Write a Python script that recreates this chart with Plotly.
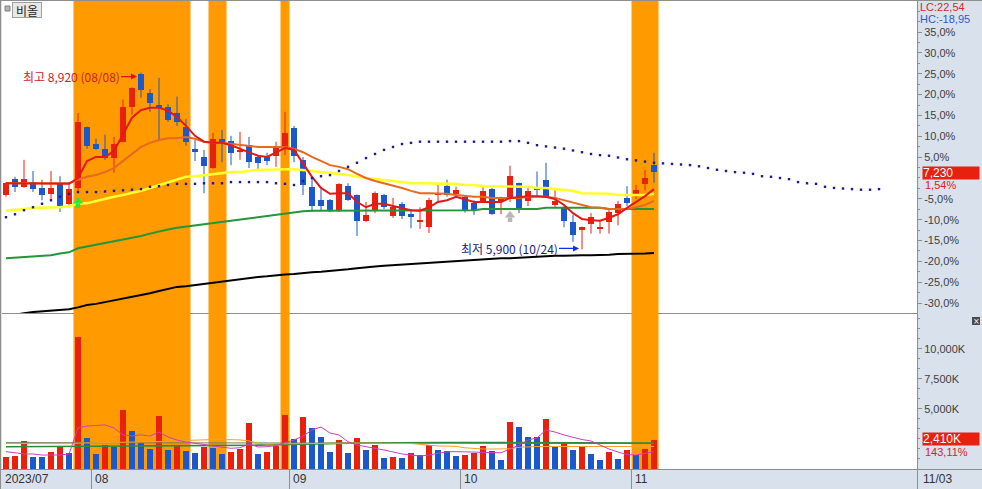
import plotly.graph_objects as go
import pandas as pd
import numpy as np

# ---------------- data ----------------
holidays = ["2023-08-15", "2023-09-28", "2023-09-29", "2023-10-02", "2023-10-03", "2023-10-09"]
trade_dates = [d for d in pd.bdate_range("2023-07-18", "2023-11-03")
               if d.strftime("%Y-%m-%d") not in holidays]

opens = [6830, 7100, 6970, 7050, 6950, 6850, 7030, 6680, 6950, 7990,
         7700, 7620, 7460, 7740, 8340, 8900, 8580, 8370, 8340, 8230,
         7990, 7620, 7480, 7290, 7790, 7750, 7570, 7680, 7480, 7480,
         7500, 7650, 7980, 7430, 6970, 6740, 6740, 6550, 6980, 6830,
         6390, 6560, 6830, 6470, 6680, 6500, 6380, 6290, 6840, 6980,
         6850, 6790, 6690, 6710, 6930, 6730, 6780, 7030, 6720, 6930,
         7090, 6660, 6620, 6370, 6230, 6330, 6250, 6370, 6520, 6780,
         6810, 7020, 7350]
highs = [7050, 7140, 7430, 7240, 7090, 7240, 7150, 7050, 8230, 8000,
         7790, 7860, 7820, 8460, 8670, 8920, 8640, 8830, 8380, 8510,
         8130, 7770, 7600, 7890, 7940, 7840, 7910, 7820, 7510, 7550,
         7740, 8250, 8010, 7480, 7120, 6930, 6760, 7030, 7030, 6840,
         6710, 6890, 6850, 6780, 6710, 6590, 6620, 6780, 7030, 7090,
         6970, 6810, 6740, 6970, 6950, 6800, 7330, 7040, 6970, 7230,
         7380, 6950, 6640, 6490, 6290, 6520, 6400, 6600, 6730, 6980,
         7000, 7260, 7550]
lows = [6800, 6880, 6950, 6880, 6740, 6740, 6540, 6620, 6880, 7620,
        7600, 7430, 7210, 7730, 8200, 8490, 8250, 7770, 8080, 8010,
        7670, 7410, 6860, 7280, 7390, 7340, 7430, 7290, 7260, 7340,
        7310, 7510, 7390, 6830, 6540, 6560, 6540, 6540, 6730, 6130,
        6370, 6520, 6590, 6440, 6420, 6260, 6250, 6180, 6690, 6800,
        6830, 6530, 6490, 6700, 6490, 6500, 6710, 6520, 6640, 6810,
        6780, 6620, 6280, 6030, 5900, 6170, 6170, 6170, 6310, 6640,
        6760, 6910, 7040]
closes = [7030, 6970, 7100, 6930, 6830, 6950, 6640, 6930, 8080, 7670,
          7620, 7460, 7700, 8340, 8660, 8630, 8400, 8320, 8110, 8080,
          7740, 7570, 7330, 7790, 7740, 7550, 7590, 7390, 7380, 7410,
          7670, 7890, 7500, 7000, 6640, 6640, 6550, 7010, 6750, 6390,
          6490, 6860, 6620, 6620, 6470, 6450, 6390, 6740, 6850, 6830,
          6910, 6550, 6570, 6890, 6500, 6740, 7150, 6580, 6890, 6920,
          6790, 6720, 6390, 6140, 6280, 6450, 6260, 6540, 6680, 6690,
          6910, 7120, 7230]
volumes_k = [1020, 1040, 2330, 1020, 1010, 1390, 1910, 1300, 10990, 2600,
             1250, 1990, 1800, 4900, 3160, 2140, 1660, 4400, 1580, 1990,
             1520, 1300, 1850, 1720, 1250, 1440, 1640, 3800, 1250, 1390,
             1910, 4490, 2470, 4300, 3380, 2680, 1440, 2410, 1300, 2600,
             1580, 1990, 940, 1020, 950, 1300, 1140, 1990, 1580, 1500,
             1110, 1160, 1300, 1940, 1520, 750, 3930, 3520, 2680, 2660,
             4160, 1910, 2140, 1580, 1850, 1250, 750, 1410, 830, 1580,
             1140, 1684, 2410]

ma5 = [7030, 7030, 7030, 7030, 7030, 7020, 7020, 7020, 7120, 7410,
       7480, 7480, 7580, 7860, 8150, 8280, 8320, 8320, 8270, 8160,
       8010, 7840, 7740, 7720, 7720, 7680, 7620, 7550, 7500, 7480,
       7550, 7630, 7600, 7380, 7140, 6950, 6850, 6860, 6860, 6710,
       6620, 6680, 6680, 6640, 6610, 6570, 6560, 6620, 6710, 6740,
       6800, 6760, 6710, 6710, 6710, 6710, 6780, 6800, 6810, 6810,
       6800, 6760, 6660, 6520, 6420, 6400, 6390, 6440, 6500, 6610,
       6710, 6810, 6930]
ma10 = [7030, 7030, 7030, 7030, 7030, 7030, 7030, 7030, 7090, 7140,
        7170, 7220, 7290, 7410, 7530, 7650, 7720, 7770, 7800, 7800,
        7820, 7790, 7740, 7720, 7720, 7700, 7680, 7670, 7650, 7650,
        7650, 7650, 7620, 7560, 7480, 7410, 7340, 7310, 7270, 7190,
        7120, 7070, 7030, 7000, 6950, 6900, 6860, 6860, 6860, 6850,
        6830, 6810, 6800, 6800, 6780, 6780, 6780, 6780, 6800, 6800,
        6800, 6780, 6740, 6690, 6660, 6620, 6610, 6590, 6590, 6590,
        6620, 6660, 6730]
ma20 = [6560, 6570, 6590, 6610, 6610, 6620, 6620, 6640, 6680, 6690,
        6730, 6760, 6800, 6830, 6860, 6900, 6950, 7000, 7050, 7100,
        7140, 7150, 7170, 7190, 7210, 7220, 7220, 7240, 7260, 7260,
        7270, 7270, 7270, 7260, 7240, 7220, 7210, 7190, 7170, 7140,
        7120, 7100, 7090, 7070, 7050, 7030, 7030, 7030, 7020, 7020,
        7020, 7000, 7000, 6980, 6980, 6980, 6970, 6970, 6970, 6950,
        6950, 6930, 6920, 6900, 6860, 6860, 6850, 6850, 6830, 6830,
        6830, 6830, 6850]
ma60 = [5750, 5760, 5770, 5790, 5800, 5800, 5830, 5850, 5920, 5950,
        5970, 6000, 6030, 6060, 6090, 6130, 6170, 6210, 6240, 6270,
        6290, 6310, 6330, 6360, 6380, 6400, 6420, 6440, 6460, 6480,
        6500, 6510, 6530, 6550, 6560, 6560, 6560, 6560, 6560, 6560,
        6560, 6560, 6560, 6560, 6560, 6560, 6560, 6570, 6570, 6570,
        6570, 6570, 6570, 6590, 6590, 6590, 6590, 6590, 6590, 6590,
        6610, 6610, 6610, 6610, 6610, 6610, 6610, 6590, 6590, 6590,
        6590, 6590, 6590]
ma120 = [4760, 4790, 4810, 4830, 4840, 4850, 4860, 4880, 4910, 4950,
         4970, 5000, 5030, 5050, 5090, 5120, 5150, 5190, 5220, 5260,
         5270, 5290, 5320, 5340, 5360, 5380, 5390, 5410, 5430, 5440,
         5460, 5470, 5480, 5500, 5510, 5520, 5530, 5550, 5560, 5580,
         5600, 5610, 5620, 5630, 5650, 5660, 5670, 5680, 5680, 5690,
         5700, 5720, 5730, 5740, 5740, 5750, 5750, 5760, 5770, 5770,
         5780, 5790, 5790, 5800, 5800, 5800, 5800, 5810, 5820, 5820,
         5830, 5830, 5840]
# leading (forward-shifted) line, extends 25 sessions beyond the last candle
lead_line = [6450, 6500, 6570, 6620, 6680, 6740, 6800, 6850, 6880, 6880,
             6880, 6890, 6900, 6910, 6920, 6930, 6970, 6980, 7000, 7020,
             7020, 7020, 7030, 7030, 7030, 7050, 7050, 7050, 7050, 7050,
             7030, 7020, 7000, 7070, 7120, 7150, 7170, 7240, 7310, 7380,
             7460, 7530, 7600, 7650, 7700, 7720, 7740, 7740, 7740, 7740,
             7740, 7740, 7740, 7740, 7740, 7740, 7750, 7750, 7720, 7680,
             7660, 7640, 7620, 7590, 7560, 7530, 7510, 7500, 7470, 7440,
             7420, 7400, 7380, 7370, 7360, 7350, 7340, 7320, 7290, 7260,
             7240, 7220, 7210, 7190, 7150, 7140, 7120, 7100, 7050, 7030,
             7020, 6970, 6950, 6940, 6930, 6920, 6920, 6930]

vol_ma5 = [1440, 1330, 1250, 1250, 1160, 1160, 1160, 1250, 3410, 3570,
           3610, 3660, 3410, 2830, 2740, 2830, 2740, 3070, 2660, 2410,
           2240, 2160, 2040, 1910, 1790, 1720, 1770, 2080, 1830, 1850,
           1950, 2160, 2410, 2740, 3240, 3490, 2990, 2830, 2270, 1990,
           1830, 1720, 1580, 1410, 1250, 1160, 1080, 1160, 1330, 1440,
           1440, 1440, 1410, 1370, 1350, 1350, 1660, 1990, 2410, 2580,
           3240, 3070, 2830, 2620, 2450, 2330, 1990, 1660, 1410, 1200,
           1160, 1290, 1440]
vol_ma20 = [2120, 2110, 2110, 2100, 2100, 2100, 2100, 2110, 2150, 2160,
            2160, 2170, 2180, 2200, 2220, 2230, 2250, 2280, 2300, 2340,
            2380, 2420, 2450, 2450, 2450, 2440, 2420, 2330, 2150, 2080,
            2080, 2080, 2080, 2080, 2080, 2090, 2100, 2140, 2160, 2160,
            2160, 2160, 2160, 2160, 2150, 2120, 2050, 1950, 1910, 1900,
            1880, 1760, 1680, 1660, 1660, 1660, 1680, 1800, 1860, 1870,
            1870, 1870, 1870, 1870, 1870, 1870, 1870, 1870, 1870, 1870,
            1870, 1870, 1870]
vol_ma60 = [1850, 1850, 1850, 1850, 1860, 1860, 1860, 1870, 1880, 1880,
            1890, 1890, 1900, 1900, 1910, 1910, 1920, 1920, 1930, 1930,
            1940, 1940, 1950, 1950, 1960, 1960, 1970, 1980, 1980, 1990,
            2000, 2010, 2030, 2050, 2070, 2090, 2110, 2130, 2150, 2160,
            2170, 2180, 2190, 2200, 2200, 2200, 2200, 2200, 2200, 2200,
            2200, 2200, 2190, 2190, 2180, 2180, 2170, 2170, 2170, 2160,
            2160, 2160, 2160, 2160, 2160, 2160, 2160, 2160, 2160, 2160,
            2160, 2160, 2160]
vol_ma120 = [2190, 2190, 2190, 2190, 2190, 2190, 2190, 2190, 2190, 2190,
             2190, 2190, 2190, 2190, 2190, 2190, 2190, 2180, 2180, 2180,
             2180, 2180, 2180, 2180, 2180, 2170, 2170, 2170, 2170, 2170,
             2170, 2170, 2170, 2160, 2160, 2160, 2160, 2160, 2160, 2160,
             2150, 2150, 2150, 2150, 2150, 2150, 2150, 2150, 2140, 2140,
             2140, 2140, 2140, 2140, 2140, 2140, 2130, 2130, 2130, 2130,
             2130, 2130, 2130, 2130, 2130, 2120, 2120, 2120, 2120, 2120,
             2120, 2120, 2120]

band_start = ["2023-07-28", "2023-08-21", "2023-08-31", "2023-11-01"]
band_end = ["2023-08-16", "2023-08-22", "2023-08-31", "2023-11-03"]

signal_green_date = ["2023-07-28"]
signal_green_price = [6690]
signal_gray_date = ["2023-10-12"]
signal_gray_price = [6450]

pct_ticks = [35, 30, 25, 20, 15, 10, 5, -5, -10, -15, -20, -25, -30]
vol_ticks = [5000, 7500, 10000]

# ---------------- helpers ----------------
RED = "#e8210f"
BLUE = "#1a58cc"
GRID = "#8e8e8e"
PANEL = "#d9e1ec"
WON_PER_PX = 17.08

def px_x(px):
    return (px - 2) / 915.0

def px_y(py):
    return (469 - py) / 468.0

date_str = [d.strftime("%Y-%m-%d") for d in trade_dates]
def di(s):
    return date_str.index(s)

n = len(closes)
idx = list(range(n))
base = closes[-2]

fig = go.Figure()

# ----- candle wicks -----
for colr, cond in ((RED, True), (BLUE, False)):
    wx, wy = [], []
    for i in idx:
        if (closes[i] >= opens[i]) == cond:
            wx += [i, i, None]
            wy += [lows[i], highs[i], None]
    fig.add_trace(go.Scatter(x=wx, y=wy, mode="lines", line=dict(color=colr, width=1),
                             hoverinfo="skip", yaxis="y"))

# ----- candle bodies -----
body_base = [min(o, c) for o, c in zip(opens, closes)]
body_h = [max(abs(c - o), 17) for o, c in zip(opens, closes)]
body_col = [RED if c >= o else BLUE for o, c in zip(opens, closes)]
fig.add_trace(go.Bar(x=idx, y=body_h, base=body_base, width=0.76,
                     marker=dict(color=body_col, line=dict(width=0)), yaxis="y"))

# ----- moving averages -----
for vals, colr, w in ((ma120, "#000000", 2), (ma60, "#22963a", 2), (ma20, "#ffff30", 2.6),
                      (ma10, "#e8681e", 2), (ma5, "#e41818", 2)):
    fig.add_trace(go.Scatter(x=idx, y=vals, mode="lines", line=dict(color=colr, width=w),
                             yaxis="y", hoverinfo="skip"))

fig.add_trace(go.Scatter(x=list(range(len(lead_line))), y=lead_line, mode="markers",
                         marker=dict(symbol="square", size=2.4, color="#1c1c8a"),
                         yaxis="y", hoverinfo="skip"))

# block arrows (head + stem) for signals
for dates_, prices_, colr in ((signal_green_date, signal_green_price, "#33e633"),
                              (signal_gray_date, signal_gray_price, "#b8b8b8")):
    xs = [di(s) for s in dates_]
    fig.add_trace(go.Scatter(x=xs, y=[p + 2 * WON_PER_PX for p in prices_], mode="markers",
                             marker=dict(symbol="triangle-up", size=9, color=colr, line=dict(width=0)),
                             yaxis="y", hoverinfo="skip"))
    fig.add_trace(go.Scatter(x=xs, y=[p - 2.5 * WON_PER_PX for p in prices_], mode="markers",
                             marker=dict(symbol="square", size=4.5, color=colr, line=dict(width=0)),
                             yaxis="y", hoverinfo="skip"))

# ----- volume -----
vol_col = [RED if (i == 0 or volumes_k[i] > volumes_k[i - 1]) else BLUE for i in idx]
fig.add_trace(go.Bar(x=idx, y=volumes_k, width=0.76,
                     marker=dict(color=vol_col, line=dict(width=0)), yaxis="y2"))
for vals, colr, w in ((vol_ma120, "#7a7a5a", 1), (vol_ma60, "#2a8c3c", 1.6),
                      (vol_ma20, "#f2a22a", 1), (vol_ma5, "#d23cc4", 1)):
    fig.add_trace(go.Scatter(x=idx, y=vals, mode="lines", line=dict(color=colr, width=w),
                             yaxis="y2", hoverinfo="skip"))

# ----- shapes -----
shapes = []
shapes.append(dict(type="line", xref="paper", yref="paper", x0=0, x1=1,
                   y0=px_y(313.5), y1=px_y(313.5), line=dict(color=GRID, width=1), layer="below"))
for s, e in zip(band_start, band_end):
    shapes.append(dict(type="rect", xref="x", yref="paper", x0=di(s) - 0.5, x1=di(e) + 0.5,
                       y0=0, y1=1, fillcolor="#ff9a00", line=dict(width=0), layer="below"))
shapes.append(dict(type="line", xref="paper", yref="paper", x0=px_x(0), x1=px_x(982),
                   y0=px_y(469.5), y1=px_y(469.5), line=dict(color=GRID, width=1)))
shapes.append(dict(type="line", xref="paper", yref="paper", x0=px_x(0), x1=px_x(982),
                   y0=px_y(0.5), y1=px_y(0.5), line=dict(color=GRID, width=1)))
shapes.append(dict(type="line", xref="paper", yref="paper", x0=px_x(0.5), x1=px_x(0.5),
                   y0=px_y(489), y1=px_y(0), line=dict(color=GRID, width=1)))
shapes.append(dict(type="line", xref="paper", yref="paper", x0=px_x(917.5), x1=px_x(917.5),
                   y0=px_y(489), y1=px_y(0), line=dict(color=GRID, width=1)))
months = []
for i, d in enumerate(trade_dates):
    if i == 0 or d.month != trade_dates[i - 1].month:
        months.append(i)
for i in months[1:]:
    shapes.append(dict(type="line", xref="x", yref="paper", x0=i - 0.5, x1=i - 0.5,
                       y0=px_y(489), y1=px_y(470), line=dict(color=GRID, width=1)))
shapes.append(dict(type="rect", xref="paper", yref="paper", x0=px_x(5), x1=px_x(10),
                   y0=px_y(11), y1=px_y(6), fillcolor="#b4b4b4", line=dict(color="#808080", width=1)))
shapes.append(dict(type="rect", xref="paper", yref="paper", x0=px_x(972), x1=px_x(980),
                   y0=px_y(325), y1=px_y(317), fillcolor="#4a4a4a", line=dict(width=0)))

# ----- annotations -----
ann = []
KFONT = "Noto Sans CJK KR, Liberation Sans, sans-serif"
LBL = "Liberation Sans"
imax = int(np.argmax(highs))
imin = int(np.argmin(lows))
ann.append(dict(x=imax, y=highs[imax], xref="x", yref="y",
                text=f"최고 {highs[imax]:,} ({trade_dates[imax]:%m/%d})",
                font=dict(family=KFONT, size=12, color="#d02028"),
                showarrow=True, arrowhead=2, arrowsize=1, arrowwidth=1.2, arrowcolor="#e01010",
                ax=-66, ay=0, xshift=-4, yshift=-4))
ann.append(dict(x=imin, y=lows[imin], xref="x", yref="y",
                text=f"최저 {lows[imin]:,} ({trade_dates[imin]:%m/%d})",
                font=dict(family=KFONT, size=12, color="#1a1a80"),
                showarrow=True, arrowhead=2, arrowsize=1, arrowwidth=1.2, arrowcolor="#1030e0",
                ax=-70, ay=0, xshift=-3, yshift=1))


def ptext(px, py, text, color, size=12, family=LBL, xanchor="left", **kw):
    d = dict(x=px_x(px), y=px_y(py), xref="paper", yref="paper", xanchor=xanchor,
             yanchor="middle", text=text, font=dict(family=family, size=size, color=color),
             showarrow=False)
    d.update(kw)
    return d


ann.append(ptext(27, 10, "비올", "#222222", family=KFONT, xanchor="center",
                 bgcolor="#e8e8e8", bordercolor="#a0a0a0", borderwidth=1, borderpad=0,
                 width=28, height=14))
ann.append(ptext(976, 321, "×", "white", size=8, family="DejaVu Sans", xanchor="center"))
ann.append(ptext(918, 7.5, "LC:22,54", "#d82828", size=11))
ann.append(ptext(918, 19.5, "HC:-18,95", "#2a5cc8", size=11))
ann.append(dict(x=px_x(922), y=closes[-1], xref="paper", yref="y", xanchor="left", yanchor="middle",
                text=f"{closes[-1]:,}", font=dict(family=LBL, size=12, color="white"),
                bgcolor="#e8210f", width=56, height=12, align="left", borderpad=0,
                showarrow=False, yshift=-1))
chg = (closes[-1] / closes[-2] - 1) * 100
ann.append(ptext(923, 184.5, f"{chg:.2f}%".replace(".", ","), "#e02020", size=11))
ann.append(dict(x=px_x(922), y=volumes_k[-1], xref="paper", yref="y2", xanchor="left", yanchor="middle",
                text=f"{volumes_k[-1]:,}K", font=dict(family=LBL, size=12, color="white"),
                bgcolor="#e8210f", width=56, height=12, align="left", borderpad=0,
                showarrow=False, yshift=1))
vr = volumes_k[-1] / volumes_k[-2] * 100
ann.append(ptext(923, 452, f"{vr:.2f}%".replace(".", ","), "#e02020", size=11))
ann.append(dict(x=-0.444, y=px_y(479.5), xref="x", yref="paper", xanchor="left", yanchor="middle",
                xshift=1, text=f"{trade_dates[0]:%Y/%m}",
                font=dict(family=LBL, size=12, color="#333333"), showarrow=False))
for i in months[1:]:
    ann.append(dict(x=i - 0.5, y=px_y(479.5), xref="x", yref="paper", xanchor="left",
                    yanchor="middle", xshift=1, text=f"{trade_dates[i]:%m}",
                    font=dict(family=LBL, size=12, color="#333333"), showarrow=False))
ann.append(ptext(921, 479.5, f"{trade_dates[-1]:%m/%d}", "#333333", size=12))

# ----- layout -----
price_minor = [base * (1 + p / 100) for p in np.arange(-32.5, 42.6, 2.5)]
vol_minor = [k * 2500 / 3 for k in range(1, 16)]
fig.update_layout(
    template="none", width=982, height=489,
    margin=dict(l=2, r=65, t=1, b=20, pad=0),
    paper_bgcolor=PANEL, plot_bgcolor="white",
    showlegend=False, barmode="overlay", bargap=0,
    font=dict(family=LBL, size=11, color="#404040"),
    xaxis=dict(domain=[0, 1], range=[-0.444, 101.22], anchor="y2", showticklabels=False,
               showgrid=False, zeroline=False, showline=False, ticks="", automargin=False),
    yaxis=dict(domain=[px_y(313), 1], range=[4814, 10143], side="right", anchor="x",
               tickvals=[base * (1 + p / 100) for p in pct_ticks],
               ticktext=[f"{p:.1f}%".replace(".", ",") for p in pct_ticks],
               ticks="outside", ticklen=4, tickcolor=GRID, tickwidth=1,
               showgrid=False, zeroline=False, showline=True, linecolor=GRID,
               tickfont=dict(family=LBL, size=11, color="#404040"), automargin=False,
               minor=dict(tickvals=price_minor, ticks="outside", ticklen=2, tickcolor=GRID)),
    yaxis2=dict(domain=[0, px_y(314)], range=[0, 12880], side="right", anchor="x",
                tickvals=vol_ticks, ticktext=[f"{v:,}K" for v in vol_ticks],
                ticks="outside", ticklen=4, tickcolor=GRID, tickwidth=1,
                showgrid=False, zeroline=False, showline=True, linecolor=GRID,
                tickfont=dict(family=LBL, size=11, color="#404040"), automargin=False,
                minor=dict(tickvals=vol_minor, ticks="outside", ticklen=2, tickcolor=GRID)),
    shapes=shapes, annotations=ann,
)

fig.write_html("out.html", config={"displayModeBar": False},
               post_script="document.body.style.margin='0px';document.body.style.overflow='hidden';")
